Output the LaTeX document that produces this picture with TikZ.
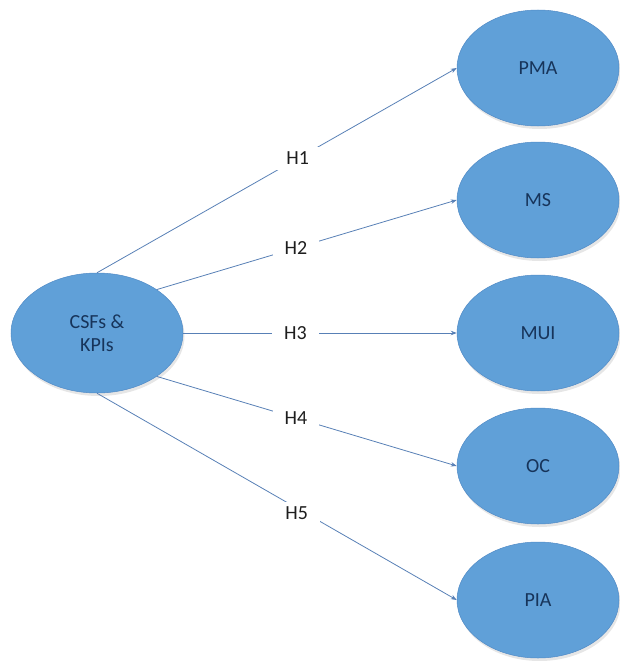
\documentclass[tikz,border=0pt]{standalone}
\usepackage{fontspec}
\setmainfont{Carlito}
\usetikzlibrary{shapes.geometric,arrows.meta,shadows}
\definecolor{ellfill}{RGB}{96,160,216}
\definecolor{elledge}{RGB}{80,138,198}
\definecolor{elltext}{RGB}{23,52,90}
\definecolor{linecol}{RGB}{88,128,182}
\definecolor{labtext}{RGB}{30,30,30}
\tikzset{
  oval/.style={ellipse, fill=ellfill, draw=elledge, line width=0.5pt, inner sep=0pt,
    text=elltext, font=\fontsize{20}{23}\selectfont, align=center,
    drop shadow={opacity=0.2, shadow xshift=1.5pt, shadow yshift=-3pt}},
  rightoval/.style={oval, minimum width=162pt, minimum height=116pt},
  leftoval/.style={oval, minimum width=172pt, minimum height=120pt},
  link/.style={draw=linecol, line width=0.8pt, -{Stealth[length=6pt,width=4.5pt]}},
  hlabel/.style={fill=white, text=labtext, font=\fontsize{20}{23}\selectfont,
    inner xsep=12pt, inner ysep=5pt}
}
\begin{document}
\begin{tikzpicture}[x=1pt,y=-1pt]
\useasboundingbox (0,0) rectangle (620,661);
\node[leftoval] (src) at (97,333) {CSFs \&\\KPIs};
\node[rightoval] (pma) at (538,68) {PMA};
\node[rightoval] (ms) at (538,200) {MS};
\node[rightoval] (mui) at (538,333) {MUI};
\node[rightoval] (oc) at (538,466) {OC};
\node[rightoval] (pia) at (538,600) {PIA};
\draw[link] (src.north) -- node[hlabel,pos=0.558] (h1) {H1} (pma.west);
\draw[link] (src.36) -- node[hlabel,pos=0.464] (h2) {H2} (ms.west);
\draw[link] (src.east) -- node[hlabel,pos=0.41] (h3) {H3} (mui.west);
\draw[link] (src.-36) -- node[hlabel,pos=0.464] (h4) {H4} (oc.west);
\draw[link] (src.south) -- node[hlabel,pos=0.555,yshift=-5pt] (h5) {H5} (pia.west);
\end{tikzpicture}
\end{document}
